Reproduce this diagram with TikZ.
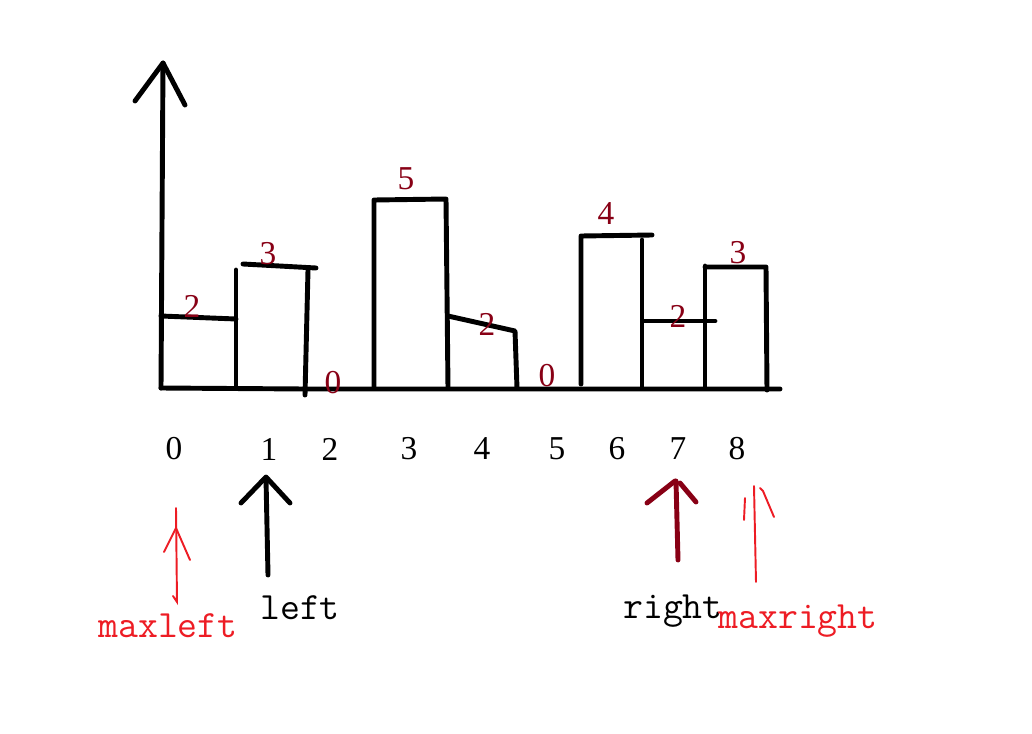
\documentclass[tikz,border=0pt]{standalone}
\usepackage{fontspec}
\newfontfamily\digitfont{Liberation Serif}
\tikzset{>=stealth}
\definecolor{darkred}{RGB}{136,0,21}
\definecolor{paintred}{RGB}{237,28,36}
\tikzset{
	pen/.style={line width=2.8pt,line cap=round,line join=round},
	thinpen/.style={line width=1.1pt,paintred,line cap=round},
	num/.style={text=darkred,font=\fontsize{19}{21}\digitfont},
	idx/.style={font=\fontsize{19}{21}\digitfont},
	word/.style={font=\fontsize{22}{26}\ttfamily}
}

\begin{document}
\begin{tikzpicture}[x=0.02cm,y=-0.02cm]
				\useasboundingbox (0,0) rectangle (1032,734);
				% axes
				\draw[pen] (161,388) -- (163,63);
				\draw[pen] (135,101) -- (163,63) -- (185,105);
				\draw[pen] (161,388) -- (305,389) -- (780,389);
				% bars
				\draw[pen] (161,316) -- (236,319);
				\draw[pen] (236,388) -- (236,270);
				\draw[pen] (243,264) -- (316,268);
				\draw[pen] (308,270) -- (305,395);
				\draw[pen] (374,388) -- (374,200) -- (446,199) -- (448,388);
				\draw[pen] (448,316) -- (515,331) -- (517,388);
				\draw[pen] (581,384) -- (581,236) -- (652,235);
				\draw[pen] (642,240) -- (642,388);
				\draw[pen] (645,321) -- (715,321);
				\draw[pen] (705,266) -- (705,388);
				\draw[pen] (705,267) -- (766,267) -- (767,390);
				% heights
				\node[num] (h0) at (192,306) {2};
				\node[num] (h1) at (268,254) {3};
				\node[num] (h2) at (333,383) {0};
				\node[num] (h3) at (406,179) {5};
				\node[num] (h4) at (487,324) {2};
				\node[num] (h5) at (547,376) {0};
				\node[num] (h6) at (606,214) {4};
				\node[num] (h7) at (678,316) {2};
				\node[num] (h8) at (738,253) {3};
				% indices
				\foreach \i/\x in {0/174,1/269,2/330,3/409,4/482,5/557,6/617,7/678,8/737}
					\node[idx] (i\i) at (\x,449) {\i};
				% pointers
				\draw[thinpen] (176,508) -- (177,602) -- (173,596);
				\draw[thinpen] (164,552) -- (176,528) -- (190,560);
				\draw[pen] (268,575) -- (266,478);
				\draw[pen] (241,503) -- (266,477) -- (290,503);
				\draw[pen,darkred] (678,560) -- (676,481);
				\draw[pen,darkred] (647,503) -- (675,481);
				\draw[pen,darkred] (680,483) -- (696,502);
				\draw[thinpen] (754,486) -- (756,582);
				\draw[thinpen] (745,498) -- (744,520);
				\draw[thinpen] (760,488) -- (763,491) -- (774,517);
				\node[word,text=paintred] (maxleft) at (168,626) {maxleft};
				\node[word] (left) at (300,608) {left};
				\node[word] (right) at (673,611) {right};
				\node[word,text=paintred] (maxright) at (798,621) {maxright};
				\end{tikzpicture}
\end{document}
